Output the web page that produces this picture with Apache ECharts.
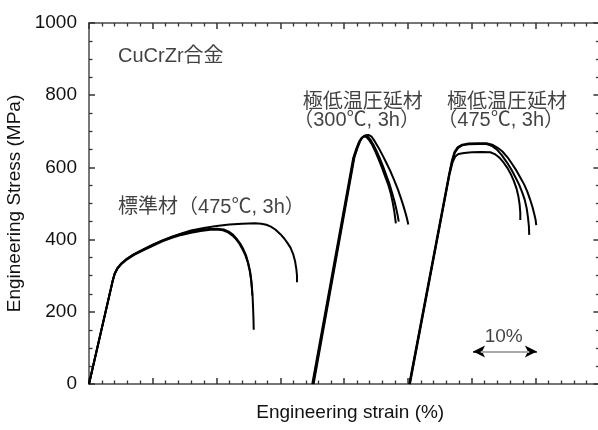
<!DOCTYPE html>
<html><head><meta charset="utf-8">
<script src="https://cdn.jsdelivr.net/npm/echarts@6/dist/echarts.min.js"></script>
<style>html,body{margin:0;padding:0;background:#fff}#c{width:598px;height:430px}</style>
</head><body><div id="c"></div>
<script>
// ---- data (strain %, stress MPa) ----
const yTickValues = [0, 200, 400, 600, 800, 1000];

// 標準材 (475℃, 3h)
const std1 = [[0,0],[3.7,285],[4.0,304],[4.4,318],[5.0,331],[5.8,343],[7.0,357],[8.5,370],[10.0,383],[11.5,395],[13.0,405],[14.5,413],[16.0,419],[17.5,424],[19.0,427],[20.0,428],[21.0,426],[21.8,420],[22.5,411],[23.1,400],[23.6,388],[24.1,372],[24.5,357],[24.9,336],[25.2,313],[25.4,290],[25.55,265],[25.65,240],[25.72,210],[25.78,180],[25.82,150]];
const std2 = [[0,0],[3.75,288],[4.05,306],[4.5,321],[5.1,334],[5.9,346],[7.1,360],[8.6,373],[10.1,386],[11.6,398],[13.1,408],[14.6,416],[16.1,422],[17.6,427],[19.1,430],[20.1,430],[21.1,428],[21.9,422],[22.6,413],[23.2,401],[23.7,389],[24.2,373],[24.6,357],[24.95,336],[25.25,312],[25.45,285],[25.55,260],[25.6,245]];
const std3 = [[0,0],[3.7,285],[4.0,305],[4.4,320],[5.0,333],[5.8,345],[7.0,359],[8.5,373],[10.0,386],[11.5,398],[13.0,408],[14.5,417],[16.0,425],[18.0,432],[20.0,438],[22.0,442],[24.0,444],[26.0,445],[27.0,444],[27.8,441],[28.5,436],[29.2,428],[30.0,415],[30.6,403],[31.1,391],[31.6,377],[32.0,360],[32.3,340],[32.5,318],[32.6,300],[32.6,282]];

// 極低温圧延材 (300℃, 3h)
const r300a = [[35.0,0],[41.4,625],[41.9,652],[42.3,670],[42.7,681],[43.1,686],[43.5,684],[43.9,676],[44.4,662],[44.9,643],[45.4,622],[45.9,600],[46.4,576],[46.9,552],[47.3,528],[47.6,503],[47.85,478],[48.0,458],[48.1,445]];
const r300b = [[35.1,0],[41.5,625],[42.0,652],[42.4,671],[42.8,682],[43.2,687],[43.7,685],[44.1,677],[44.6,662],[45.1,644],[45.6,624],[46.1,602],[46.6,578],[47.1,554],[47.5,530],[47.9,505],[48.2,482],[48.4,465],[48.55,450]];
const r300c = [[35.2,0],[41.6,628],[42.1,655],[42.5,673],[42.9,684],[43.3,689],[43.8,690],[44.3,685],[44.8,672],[45.4,654],[46.0,634],[46.6,613],[47.2,591],[47.8,566],[48.4,540],[48.9,514],[49.3,492],[49.6,474],[49.85,458],[50.05,442]];

// 極低温圧延材 (475℃, 3h)
const r475a = [[50.2,0],[56.4,578],[56.9,620],[57.3,643],[57.8,656],[58.5,663],[59.5,666],[61.0,667],[62.3,667],[63.2,663],[64.0,655],[64.8,644],[65.6,628],[66.3,610],[67.0,591],[67.6,572],[68.2,553],[68.7,533],[69.1,513],[69.5,491],[69.8,470],[70.0,455],[70.1,440]];
const r475b = [[50.25,0],[56.45,578],[56.95,619],[57.35,641],[57.85,654],[58.5,661],[59.5,664],[61.0,665],[62.3,665],[63.1,660],[63.9,650],[64.7,634],[65.5,614],[66.2,594],[66.8,574],[67.4,553],[67.9,531],[68.3,510],[68.6,487],[68.8,462],[68.95,437],[69.0,413]];
const r475c = [[50.3,0],[56.5,580],[57.0,615],[57.4,630],[57.9,637],[58.8,640],[60.0,642],[61.5,643],[62.9,642],[63.7,636],[64.4,626],[65.0,613],[65.6,598],[66.1,582],[66.6,562],[67.0,542],[67.3,520],[67.5,497],[67.6,475],[67.6,454]];

const curves = [std1, std2, std3, r300a, r300b, r300c, r475a, r475b, r475c];

// annotations (text, anchor in data coords)
const noteTexts = ['CuCrZr合金', '標準材（475℃, 3h）', '極低温圧延材', '（300℃, 3h）', '極低温圧延材', '（475℃, 3h）', '10%'];
const notePos = [[4.55,906],[4.55,490],[33.5,781],[32.0,731],[56.1,781],[54.6,731],[65.0,131]];
const scaleBarFrom = [60.2, 90];
const scaleBarTo = [70.2, 90];

// ---- chart ----
const chart = echarts.init(document.getElementById('c'), null, {renderer: 'canvas'});
const axisColor = '#4a4a4a';
const tickColor = '#333';
const latin = "'Liberation Sans', Arial, 'Noto Sans CJK JP', sans-serif";
const cjk = "'Liberation Sans', 'Noto Sans CJK JP', sans-serif";

function xAx(pos) {
  return {
    type: 'value', min: 0, max: 80, interval: 10, position: pos,
    axisLine: {show: true, onZero: false, lineStyle: {color: axisColor, width: 1.5}},
    axisTick: {show: true, inside: true, length: 6, lineStyle: {color: tickColor, width: 1.5}},
    minorTick: {show: true, splitNumber: 5, length: 3.5, lineStyle: {color: tickColor, width: 1.3}},
    axisLabel: {show: false}, splitLine: {show: false}
  };
}
function yAx(pos) {
  return {
    type: 'value', min: 0, max: 1000, interval: 200, position: pos,
    axisLine: {show: true, onZero: false, lineStyle: {color: axisColor, width: 1.5}},
    axisTick: {show: true, inside: true, length: 6, lineStyle: {color: tickColor, width: 1.5}},
    minorTick: {show: true, splitNumber: 4, length: 3.5, lineStyle: {color: tickColor, width: 1.3}},
    axisLabel: {show: false}, splitLine: {show: false}
  };
}

const xBottom = Object.assign(xAx('bottom'), {
  name: 'Engineering strain (%)', nameLocation: 'middle', nameGap: 19,
  nameTextStyle: {fontFamily: latin, fontSize: 19, color: '#111', padding: [0, 0, 0, 12]}
});
const yLeft = Object.assign(yAx('left'), {
  name: 'Engineering Stress (MPa)', nameLocation: 'middle', nameGap: 61,
  nameTextStyle: {fontFamily: latin, fontSize: 19, color: '#111'},
  axisLabel: {show: true, fontFamily: latin, fontSize: 19, color: '#111', margin: 12,
    formatter: v => yTickValues.includes(v) ? String(v) : ''}
});

const series = curves.map((d, i) => ({
  type: 'line', data: d, xAxisIndex: 0, yAxisIndex: 0,
  showSymbol: false, symbol: 'none', smooth: false,
  lineStyle: {color: '#000', width: 2, join: 'round'}, z: 3, silent: true
}));

series.push({
  type: 'scatter', xAxisIndex: 0, yAxisIndex: 0, symbolSize: 0, silent: true,
  data: noteTexts.map((t, i) => ({name: t, value: notePos[i],
    label: i === 6 ? {position: 'inside', align: 'center', verticalAlign: 'middle', color: '#111', fontSize: 19} : {}})),
  label: {show: true, position: 'right', distance: 0, align: 'left', verticalAlign: 'middle',
    formatter: p => p.name, fontFamily: cjk, fontSize: 20, color: '#111'},
  markLine: {
    silent: true, symbol: ['arrow', 'arrow'], symbolSize: [9, 12], label: {show: false},
    animation: false,
    data: [
      [{coord: scaleBarFrom, lineStyle: {color: '#000', width: 1.5, type: 'solid'}}, {coord: scaleBarTo}]
    ]
  }
});
series.push({
  type: 'line', data: [], xAxisIndex: 0, yAxisIndex: 0, silent: true,
  markLine: {
    silent: true, symbol: ['none', 'none'], label: {show: false}, animation: false, z: 6,
    data: [[{coord: [scaleBarFrom[0] + 1.2, scaleBarFrom[1]], lineStyle: {color: '#aaa', width: 2, type: 'solid'}},
            {coord: [scaleBarTo[0] - 1.2, scaleBarTo[1]]}]]
  }
});

chart.setOption({
  animation: false,
  backgroundColor: '#fff',
  grid: {left: 89, right: -1.4, top: 23, bottom: 46, containLabel: false, outerBoundsMode: 'none'},
  xAxis: [xBottom, xAx('top')],
  yAxis: [yLeft, yAx('right')],
  series: series
});
</script></body></html>
